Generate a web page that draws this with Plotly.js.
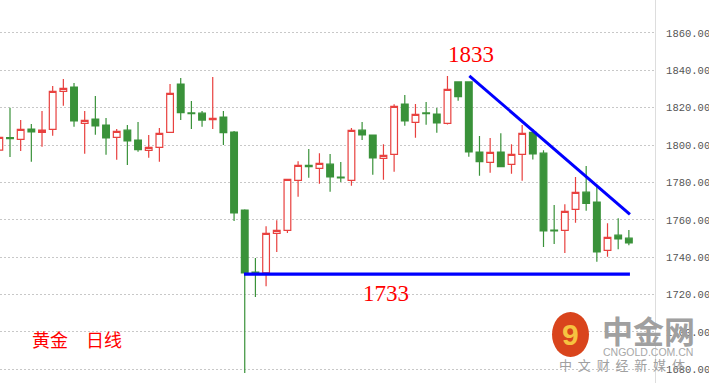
<!DOCTYPE html>
<html>
<head>
<meta charset="utf-8">
<script src="https://cdn.plot.ly/plotly-3.0.1.min.js"></script>
<style>
html,body{margin:0;padding:0;background:#fff;}
#chart{width:709px;height:383px;}
</style>
</head>
<body>
<div id="chart"></div>
<script>
// Gold daily candles
const openP  = [1797.3,1804.0,1803.1,1808.6,1806.8,1808.4,1828.8,1831.1,1811.6,1813.9,
                1810.7,1804.1,1808.0,1802.7,1797.2,1798.8,1806.8,1832.7,1817.2,1817.1,
                1813.6,1815.0,1807.0,1765.2,1732.0,1731.6,1752.7,1754.3,1781.1,1789.1,
                1787.5,1789.8,1782.9,1781.1,1808.0,1805.4,1792.9,1795.0,1822.0,1812.2,
                1817.2,1816.6,1811.6,1833.8,1833.8,1796.3,1790.7,1796.3,1789.7,1795.0,
                1806.8,1795.7,1754.5,1754.3,1765.6,1774.8,1769.5,1743.6,1751.8,1750.2];
const highP  = [1810.2,1820.0,1813.4,1811.3,1818.2,1831.6,1835.4,1833.2,1818.2,1826.3,
                1814.5,1808.6,1810.7,1812.3,1805.4,1809.1,1832.7,1835.9,1823.6,1818.2,
                1836.4,1818.2,1807.5,1765.7,1739.5,1756.6,1759.8,1782.0,1791.4,1797.9,
                1795.7,1795.2,1790.9,1809.1,1812.3,1805.6,1800.5,1821.8,1826.8,1822.0,
                1823.0,1819.8,1837.0,1834.0,1834.0,1804.8,1803.8,1806.4,1800.5,1810.7,
                1808.6,1797.3,1767.9,1768.4,1782.9,1788.8,1777.7,1758.2,1760.9,1754.5];
const lowP   = [1794.3,1793.6,1796.9,1791.1,1799.1,1805.0,1821.1,1809.8,1795.3,1805.5,
                1794.8,1792.1,1789.4,1796.4,1793.2,1791.1,1806.8,1813.4,1808.6,1809.8,
                1808.6,1800.0,1759.4,1678.0,1718.7,1724.5,1742.8,1753.0,1772.3,1782.5,
                1779.3,1775.0,1780.3,1778.2,1802.7,1784.1,1781.4,1785.7,1810.3,1803.9,
                1810.9,1806.6,1811.0,1823.7,1793.7,1783.6,1785.2,1788.4,1784.6,1780.9,
                1792.3,1745.5,1747.1,1742.3,1758.4,1764.8,1737.5,1740.2,1744.2,1746.4];
const closeP = [1804.1,1803.4,1808.4,1807.1,1808.0,1828.8,1830.4,1813.0,1813.2,1810.3,
                1803.9,1807.3,1802.3,1797.5,1798.8,1806.3,1827.7,1817.3,1816.8,1813.4,
                1814.3,1806.6,1763.7,1731.6,1731.3,1752.7,1754.3,1781.6,1789.1,1788.4,
                1790.2,1783.0,1782.5,1807.9,1805.5,1793.2,1794.5,1820.7,1813.0,1816.4,
                1816.8,1811.9,1829.8,1825.9,1796.4,1791.1,1796.1,1788.4,1795.0,1806.3,
                1795.3,1754.1,1754.1,1764.5,1774.7,1768.8,1742.8,1750.6,1749.8,1747.7];
const dayIndex = openP.map((_, i) => i);

// Hand-drawn analysis lines (candle index, price)
const resistX = [44.05, 59.1];
const resistY = [1837.1, 1762.9];
const supportX = [22.93, 59.1];
const supportY = [1730.9, 1730.9];

const highLabel = '1833';
const lowLabel = '1733';
const titleText = '黄金\u3000日线';

const RED = '#e8413f', GREEN = '#3a923a', BLUE = '#0000ff';

const traces = [
  {
    type: 'candlestick',
    x: dayIndex, open: openP, high: highP, low: lowP, close: closeP,
    increasing: {line: {color: RED, width: 1.2}, fillcolor: '#ffffff'},
    decreasing: {line: {color: GREEN, width: 1.2}, fillcolor: GREEN},
    whiskerwidth: 0,
    hoverinfo: 'skip', showlegend: false
  },
  {type: 'scatter', mode: 'lines', x: resistX, y: resistY,
   line: {color: BLUE, width: 3}, hoverinfo: 'skip', showlegend: false},
  {type: 'scatter', mode: 'lines', x: supportX, y: supportY,
   line: {color: BLUE, width: 3.2}, hoverinfo: 'skip', showlegend: false}
];

const layout = {
  width: 709, height: 383,
  margin: {l: 0, r: 54, t: 0, b: 0, pad: 0},
  paper_bgcolor: '#ffffff', plot_bgcolor: '#ffffff',
  showlegend: false,
  boxgap: 0.3, boxgroupgap: 0.1,
  xaxis: {
    range: [0.063, 61.45], showgrid: false, zeroline: false,
    showticklabels: false, ticks: '', showline: false,
    rangeslider: {visible: false}, fixedrange: true
  },
  yaxis: {
    side: 'right', range: [1672.66, 1877.66],
    tick0: 1680, dtick: 20, tickformat: '.2f',
    showgrid: true, gridcolor: '#c8c8c8', gridwidth: 1, griddash: '1.5px,2.5px',
    zeroline: false, showline: true, linecolor: '#dddddd', linewidth: 1,
    ticks: 'outside', ticklen: 8, tickcolor: 'rgba(0,0,0,0)',
    tickfont: {family: 'Liberation Mono, DejaVu Sans Mono, monospace', size: 10.5, color: '#555555'},
    fixedrange: true
  },
  shapes: [
    {type: 'circle', xref: 'paper', yref: 'paper',
     x0: 552/655, x1: 589/655, y0: 1 - 357/383, y1: 1 - 312/383,
     fillcolor: '#d9441c', line: {width: 0}, layer: 'above'}
  ],
  annotations: [
    {xref: 'x', yref: 'y', x: 44.2, y: 1833.8, yshift: 27, text: highLabel, showarrow: false,
     font: {family: 'Liberation Serif, serif', size: 23, color: '#ff0000'}},
    {xref: 'x', yref: 'y', x: 36.2, y: 1730.9, yshift: -19, text: lowLabel, showarrow: false,
     font: {family: 'Liberation Serif, serif', size: 23, color: '#ff0000'}},
    {xref: 'paper', yref: 'paper', x: 30/655, y: 1 - 339/383, xanchor: 'left', yanchor: 'middle',
     text: titleText, showarrow: false,
     font: {family: 'Noto Sans CJK SC, sans-serif', size: 18, color: '#ff0000'}},
    {xref: 'paper', yref: 'paper', x: 570.5/655, y: 1 - 334/383, xanchor: 'center', yanchor: 'middle',
     text: '<b>9</b>', showarrow: false,
     font: {family: 'Liberation Sans, Arial, sans-serif', size: 30, color: '#f6c340'}},
    {xref: 'paper', yref: 'paper', x: 648/655, y: 1 - 329/383, xanchor: 'center', yanchor: 'middle',
     text: '<b>中金网</b>', showarrow: false,
     font: {family: 'Noto Sans CJK SC, sans-serif', size: 31, color: '#a0a0a0'}},
    {xref: 'paper', yref: 'paper', x: 647.5/655, y: 1 - 352/383, xanchor: 'center', yanchor: 'middle',
     text: 'CNGOLD.COM.CN', showarrow: false,
     font: {family: 'Liberation Sans, Arial, sans-serif', size: 10.5, color: '#a8a8a8'}},
    {xref: 'paper', yref: 'paper', x: 622/655, y: 1 - 364/383, xanchor: 'center', yanchor: 'middle',
     text: '中  文  财  经  新  媒  体', showarrow: false,
     font: {family: 'Noto Sans CJK SC, sans-serif', size: 13, color: '#a0a0a0'}}
  ]
};

Plotly.newPlot('chart', traces, layout, {displayModeBar: false, staticPlot: true});
</script>
</body>
</html>
